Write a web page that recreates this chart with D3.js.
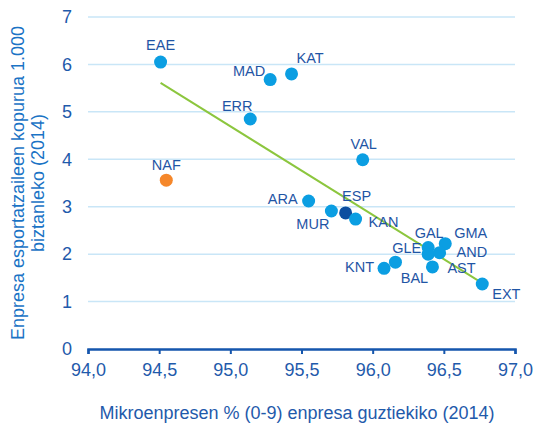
<!DOCTYPE html>
<html>
<head>
<meta charset="utf-8">
<script src="https://cdn.jsdelivr.net/npm/d3@7"></script>
<style>
	body { margin: 0; background: #fff; }
	svg { font-family: "Liberation Sans", Arial, sans-serif; }
</style>
</head>
<body>
<div id="chart"></div>
<script>
// Data
var codes = ["EAE", "NAF", "MAD", "KAT", "ERR", "VAL", "ARA", "MUR", "ESP", "KAN",
	"GAL", "GMA", "GLE", "AND", "KNT", "BAL", "AST", "EXT"];
var microPct = [94.51, 94.55, 95.28, 95.43, 95.14, 95.93, 95.55, 95.71, 95.81, 95.88,
	96.39, 96.51, 96.39, 96.47, 96.08, 96.16, 96.42, 96.77];
var exporters = [6.05, 3.56, 5.68, 5.80, 4.85, 3.99, 3.12, 2.91, 2.87, 2.74,
	2.14, 2.22, 2.00, 2.03, 1.70, 1.83, 1.73, 1.37];
var trendX = [94.51, 96.77];
var trendY = [5.61, 1.39];
var xTicks = [94.0, 94.5, 95.0, 95.5, 96.0, 96.5, 97.0];
var yTicks = [0, 1, 2, 3, 4, 5, 6, 7];

// label offsets (dx, dy, anchor) relative to the point
var labelPos = {
	EAE: [0, -12, "middle"], NAF: [0, -10, "middle"], MAD: [-5, -4, "end"],
	KAT: [5, -11, "start"], ERR: [-13, -8, "middle"], VAL: [1, -11, "middle"],
	ARA: [-11, 3, "end"], MUR: [-2, 18, "end"], ESP: [11, -12, "middle"],
	KAN: [13, 8, "start"], GAL: [1, -10, "middle"], GMA: [9, -6, "start"],
	GLE: [-7, -1, "end"], AND: [17, 4, "start"], KNT: [-10, 4, "end"],
	BAL: [19, 21, "middle"], AST: [15, 6, "start"], EXT: [10, 15, "start"]
};

var width = 533, height = 427;
var margin = {left: 88, right: 18, top: 17, bottom: 78};

var svg = d3.select("#chart")
	.append("svg")
	.attr("width", width)
	.attr("height", height);

var x = d3.scaleLinear().domain([94, 97]).range([margin.left, width - margin.right]);
var y = d3.scaleLinear().domain([0, 7]).range([height - margin.bottom, margin.top]);

// gridlines
svg.append("g")
	.selectAll("line")
	.data(yTicks.slice(1))
	.enter().append("line")
	.attr("x1", x(94)).attr("x2", x(97))
	.attr("y1", d => y(d)).attr("y2", d => y(d))
	.attr("stroke", "#c9e6f7")
	.attr("stroke-width", 1.5);

// y axis labels
svg.append("g")
	.call(d3.axisLeft(y).tickValues(yTicks).tickSize(0).tickPadding(16).tickFormat(d3.format("d")))
	.attr("transform", "translate(" + x(94) + ",0)")
	.call(g => g.select(".domain").remove())
	.selectAll("text")
	.attr("font-size", 18)
	.attr("fill", "#1f5aab")
	.attr("font-family", "Liberation Sans, Arial, sans-serif");

// x axis
var xAxis = svg.append("g")
	.attr("transform", "translate(0," + y(0) + ")")
	.call(d3.axisBottom(x).tickValues(xTicks).tickSize(5).tickPadding(9)
		.tickFormat(d => d3.format(".1f")(d).replace(".", ",")));
xAxis.select(".domain").attr("stroke", "#1556ad").attr("stroke-width", 2.5);
xAxis.selectAll(".tick line").attr("stroke", "#1556ad").attr("stroke-width", 2);
xAxis.selectAll("text")
	.attr("font-size", 18)
	.attr("fill", "#1f5aab")
	.attr("font-family", "Liberation Sans, Arial, sans-serif");

// trend line
svg.append("line")
	.attr("x1", x(trendX[0])).attr("y1", y(trendY[0]))
	.attr("x2", x(trendX[1])).attr("y2", y(trendY[1]))
	.attr("stroke", "#8cc63e")
	.attr("stroke-width", 2);

var pts = codes.map((c, i) => ({code: c, x: microPct[i], y: exporters[i]}));

// points
svg.append("g")
	.selectAll("circle")
	.data(pts)
	.enter().append("circle")
	.attr("cx", d => x(d.x))
	.attr("cy", d => y(d.y))
	.attr("r", 6.5)
	.attr("fill", d => d.code == "ESP" ? "#0d4ea0" : d.code == "NAF" ? "#f5872a" : "#0b9ee2");

// point labels
svg.append("g")
	.selectAll("text")
	.data(pts)
	.enter().append("text")
	.attr("x", d => x(d.x) + labelPos[d.code][0])
	.attr("y", d => y(d.y) + labelPos[d.code][1])
	.attr("text-anchor", d => labelPos[d.code][2])
	.attr("font-size", 14.5)
	.attr("fill", "#1f55a5")
	.text(d => d.code);

// axis titles
svg.append("text")
	.attr("x", 297)
	.attr("y", 419)
	.attr("text-anchor", "middle")
	.attr("font-size", 18)
	.attr("fill", "#1f5aab")
	.text("Mikroenpresen % (0-9) enpresa guztiekiko (2014)");

var yTitle = svg.append("text")
	.attr("transform", "translate(24,183) rotate(-90)")
	.attr("text-anchor", "middle")
	.attr("font-size", 18)
	.attr("fill", "#1a73c5");
yTitle.append("tspan").attr("x", 0).attr("dy", 0).text("Enpresa esportatzaileen kopurua 1.000");
yTitle.append("tspan").attr("x", 0).attr("dy", 20).text("biztanleko (2014)");
</script>
</body>
</html>
